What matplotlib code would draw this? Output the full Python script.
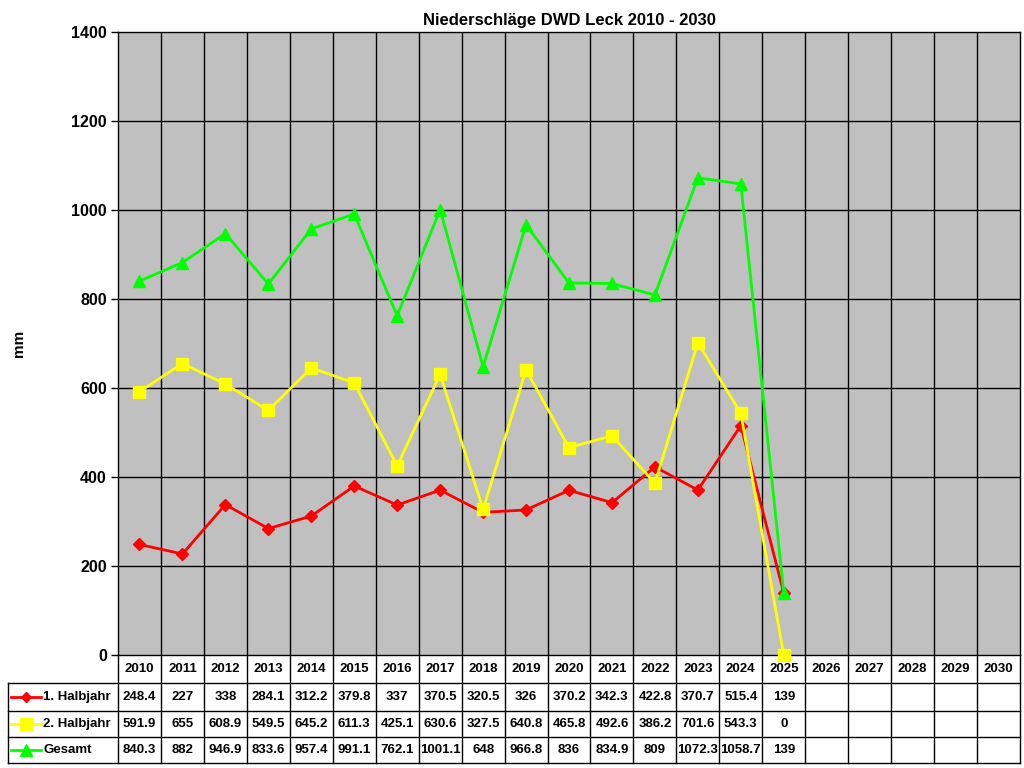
import matplotlib
matplotlib.use("Agg")
import matplotlib.pyplot as plt
import numpy as np

plt.rcParams['font.family'] = ['Liberation Sans', 'DejaVu Sans']
plt.rcParams['font.weight'] = 'bold'

years = [str(y) for y in range(2010, 2031)]
h1 = [248.4, 227, 338, 284.1, 312.2, 379.8, 337, 370.5, 320.5, 326, 370.2, 342.3, 422.8, 370.7, 515.4, 139]
h2 = [591.9, 655, 608.9, 549.5, 645.2, 611.3, 425.1, 630.6, 327.5, 640.8, 465.8, 492.6, 386.2, 701.6, 543.3, 0]
total = [840.3, 882, 946.9, 833.6, 957.4, 991.1, 762.1, 1001.1, 648, 966.8, 836, 834.9, 809, 1072.3, 1058.7, 139]
series_names = ["1. Halbjahr", "2. Halbjahr", "Gesamt"]
yticks = [0, 200, 400, 600, 800, 1000, 1200, 1400]

W, H = 1024, 768
fig = plt.figure(figsize=(W/100, H/100), dpi=100)

L, R, T, B = 118, 1020, 32, 655
ax = fig.add_axes([L/W, 1-B/H, (R-L)/W, (B-T)/H])
ax.set_facecolor('#C0C0C0')
n = len(years)
ax.set_xlim(-0.5, n-0.5)
ax.set_ylim(0, 1400)
ax.set_yticks(yticks)
ax.set_yticklabels([str(v) for v in yticks], fontsize=11.5, fontweight='bold')
ax.set_xticks([])
for v in yticks[1:-1]:
    ax.axhline(v, color='black', lw=1, zorder=1)
for i in range(1, n):
    ax.axvline(i-0.5, color='black', lw=1, zorder=1)
for s in ax.spines.values():
    s.set_color('black'); s.set_linewidth(1)
ax.tick_params(axis='y', length=5, width=1, direction='out', pad=3)
fig.text(19/W, 1-343/H, 'mm', rotation=90, ha='center', va='center',
         fontsize=11, fontweight='bold')

styles = [
    (h1, '#FF0000', 'D', 6),
    (h2, '#FFFF00', 's', 9),
    (total, '#00FF00', '^', 9),
]
x = np.arange(len(h1))
for vals, col, mk, ms in styles:
    ax.plot(x, vals, color=col, lw=2, marker=mk, markersize=ms,
            markerfacecolor=col, markeredgecolor=col, zorder=3, clip_on=False)

fig.text((L+R)/2/W, 1-20/H, 'Niederschläge DWD Leck 2010 - 2030',
         ha='center', va='center', fontsize=12, fontweight='bold')

# table
tab = fig.add_axes([0, 0, 1, 1], facecolor='none')
tab.set_xlim(0, W); tab.set_ylim(H, 0)
tab.axis('off')
rows = [655, 683, 711, 737, 763]
cw = (R-L)/n
colx = [L + i*cw for i in range(n+1)]
lk = dict(color='black', lw=1)
tab.plot([8, 8], [rows[1], rows[4]], **lk)
for yy in rows[1:]:
    tab.plot([8, R], [yy, yy], **lk)
for xx in colx:
    tab.plot([xx, xx], [rows[0], rows[4]], **lk)
for i, y in enumerate(years):
    tab.text(L + (i+0.5)*cw, (rows[0]+rows[1])/2, y, ha='center', va='center', fontsize=9.5, fontweight='bold')
data = [h1, h2, total]
for r, (vals, (_, col, mk, ms)) in enumerate(zip(data, styles)):
    yc = (rows[r+1]+rows[r+2])/2
    tab.plot([11, 41], [yc, yc], color=col, lw=2)
    tab.plot([26], [yc], marker=mk, color=col, markersize=ms*0.9, markeredgecolor=col)
    tab.text(43, yc, series_names[r], ha='left', va='center', fontsize=9.5, fontweight='bold')
    for i, v in enumerate(vals):
        s = f"{v:g}"
        tab.text(L + (i+0.5)*cw, yc, s, ha='center', va='center', fontsize=9.5, fontweight='bold')

fig.savefig('out.png', dpi=100)
